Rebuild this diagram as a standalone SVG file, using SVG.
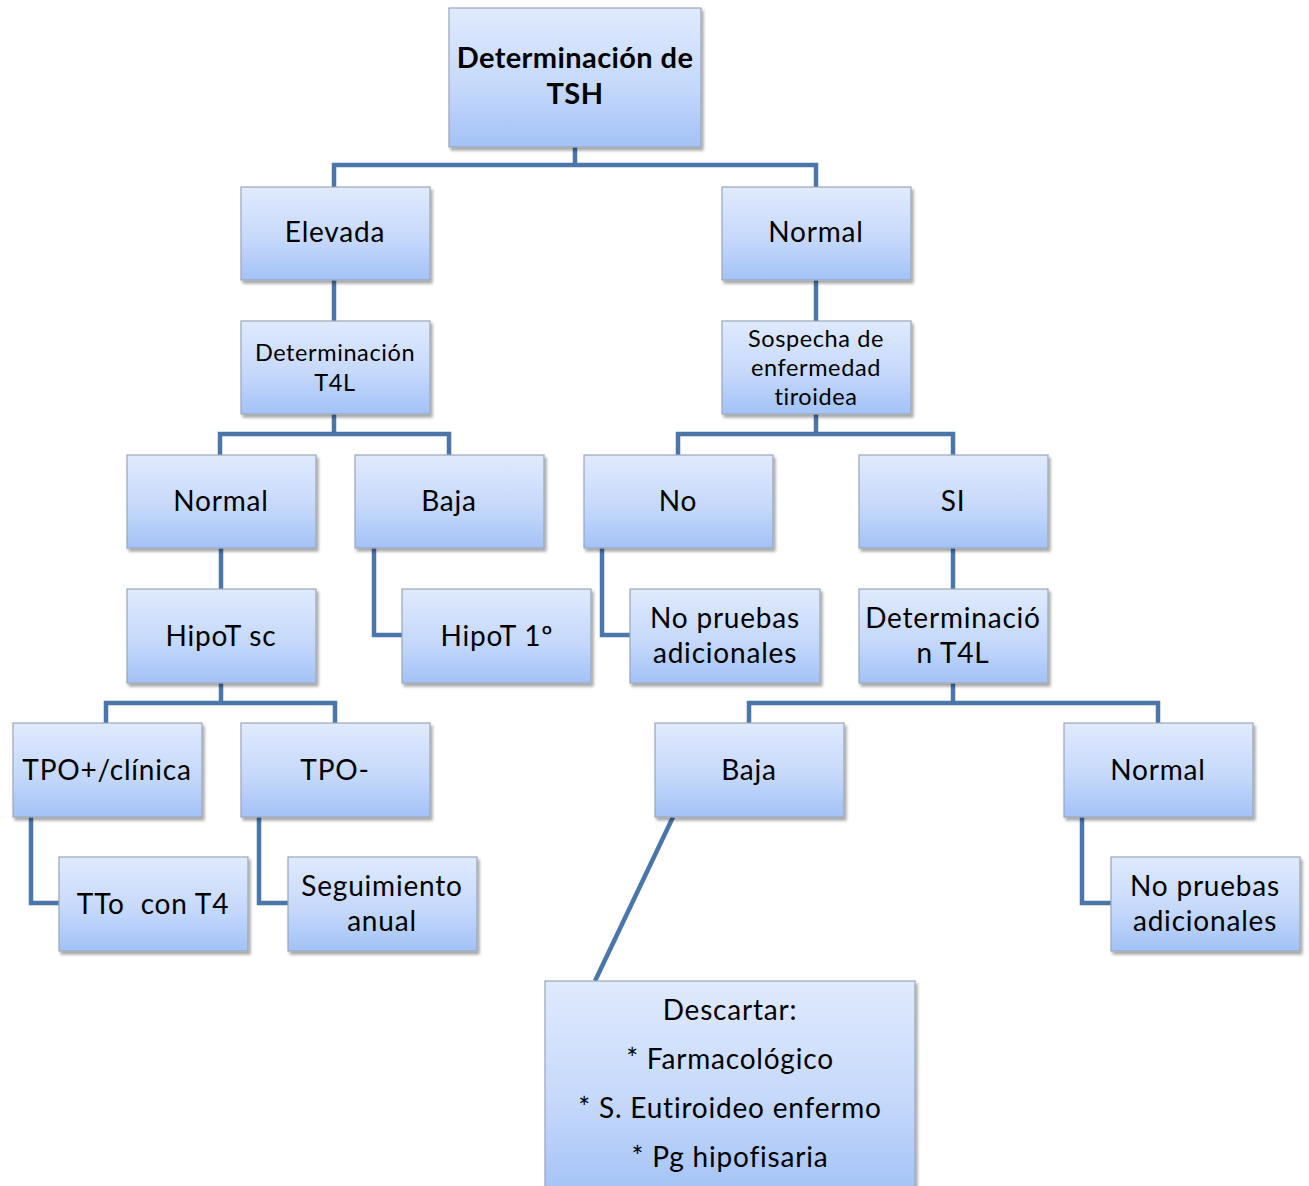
<svg xmlns="http://www.w3.org/2000/svg" width="1309" height="1186" viewBox="0 0 1309 1186">
<defs>
<linearGradient id="g" x1="0" y1="0" x2="0" y2="1">
<stop offset="0" stop-color="#e0eafd"/>
<stop offset="0.55" stop-color="#c6d9fb"/>
<stop offset="1" stop-color="#a3c2f7"/>
</linearGradient>
<filter id="sh" x="-10%" y="-10%" width="125%" height="130%">
<feDropShadow dx="2" dy="3" stdDeviation="1.5" flood-color="#000" flood-opacity="0.35"/>
</filter>
</defs>
<style>
.b{fill:url(#g);stroke:#9aa6b8;stroke-width:1.2;filter:url(#sh)}
.t{font-family:Lato,"Open Sans","Liberation Sans",sans-serif;font-size:28px;letter-spacing:0.8px;fill:#000;text-anchor:middle;font-variant-ligatures:none;white-space:pre}
.s{font-size:23.5px;letter-spacing:0.6px}
.bold{font-weight:bold;font-size:29px;letter-spacing:0.4px}
.c{fill:none;stroke:#4a76aa;stroke-width:4.5}
</style>
<g id="connectors">
<path class="c" d="M575 147V165M334 187V165H816V187"/>
<path class="c" d="M334 280V321"/>
<path class="c" d="M816 280V321"/>
<path class="c" d="M334 414V434M220 455V434H449V455"/>
<path class="c" d="M816 414V434M678 455V434H953V455"/>
<path class="c" d="M221 548V589"/>
<path class="c" d="M374 548V635H402"/>
<path class="c" d="M602 548V635H630"/>
<path class="c" d="M953 548V589"/>
<path class="c" d="M221 683V703M106 723V703H335V723"/>
<path class="c" d="M953 683V703M749 723V703H1158V723"/>
<path class="c" d="M31 817V903H59"/>
<path class="c" d="M259 817V903H288"/>
<path class="c" d="M1082 817V903H1111"/>
<path class="c" d="M673 817L595 981"/>
</g>
<g id="n-tsh"><rect class="b" x="449" y="8" width="252" height="139"/><text class="t bold" x="575" y="68">Determinación de</text><text class="t bold" x="575" y="104">TSH</text></g>
<g id="n-elevada"><rect class="b" x="241" y="187" width="189" height="93"/><text class="t" x="335" y="242">Elevada</text></g>
<g id="n-normal1"><rect class="b" x="722" y="187" width="189" height="93"/><text class="t" x="816" y="242">Normal</text></g>
<g id="n-dett4l"><rect class="b" x="241" y="321" width="189" height="93"/><text class="t s" x="335" y="361">Determinación</text><text class="t s" x="335" y="391">T4L</text></g>
<g id="n-sospecha"><rect class="b" x="722" y="321" width="189" height="93"/><text class="t s" x="816" y="347">Sospecha de</text><text class="t s" x="816" y="376">enfermedad</text><text class="t s" x="816" y="405">tiroidea</text></g>
<g id="n-normal2"><rect class="b" x="127" y="455" width="189" height="93"/><text class="t" x="221" y="511">Normal</text></g>
<g id="n-baja1"><rect class="b" x="355" y="455" width="189" height="93"/><text class="t" x="449" y="511">Baja</text></g>
<g id="n-no"><rect class="b" x="584" y="455" width="189" height="93"/><text class="t" x="678" y="511">No</text></g>
<g id="n-si"><rect class="b" x="859" y="455" width="189" height="93"/><text class="t" x="953" y="511">SI</text></g>
<g id="n-hipotsc"><rect class="b" x="127" y="589" width="189" height="94"/><text class="t" x="221" y="646">HipoT sc</text></g>
<g id="n-hipot1"><rect class="b" x="402" y="589" width="189" height="94"/><text class="t" x="497" y="646">HipoT 1º</text></g>
<g id="n-nopruebas1"><rect class="b" x="630" y="589" width="190" height="94"/><text class="t" x="725" y="628">No pruebas</text><text class="t" x="725" y="663">adicionales</text></g>
<g id="n-dett4l2"><rect class="b" x="859" y="589" width="189" height="94"/><text class="t" x="953" y="628">Determinació</text><text class="t" x="953" y="663">n T4L</text></g>
<g id="n-tpopos"><rect class="b" x="13" y="723" width="189" height="94"/><text class="t" x="107" y="780">TPO+/clínica</text></g>
<g id="n-tponeg"><rect class="b" x="241" y="723" width="189" height="94"/><text class="t" x="335" y="780">TPO-</text></g>
<g id="n-baja2"><rect class="b" x="655" y="723" width="189" height="94"/><text class="t" x="749" y="780">Baja</text></g>
<g id="n-normal3"><rect class="b" x="1064" y="723" width="189" height="94"/><text class="t" x="1158" y="780">Normal</text></g>
<g id="n-tto"><rect class="b" x="59" y="857" width="189" height="94"/><text class="t" x="153" y="914" xml:space="preserve">TTo  con T4</text></g>
<g id="n-seguimiento"><rect class="b" x="288" y="857" width="189" height="94"/><text class="t" x="382" y="896">Seguimiento</text><text class="t" x="382" y="931">anual</text></g>
<g id="n-nopruebas2"><rect class="b" x="1111" y="857" width="189" height="94"/><text class="t" x="1205" y="896">No pruebas</text><text class="t" x="1205" y="931">adicionales</text></g>
<g id="n-descartar"><rect class="b" x="545" y="981" width="370" height="215"/><text class="t" x="730" y="1020">Descartar:</text><text class="t" x="730" y="1069">* Farmacológico</text><text class="t" x="730" y="1118">* S. Eutiroideo enfermo</text><text class="t" x="730" y="1167">* Pg hipofisaria</text></g>
</svg>
